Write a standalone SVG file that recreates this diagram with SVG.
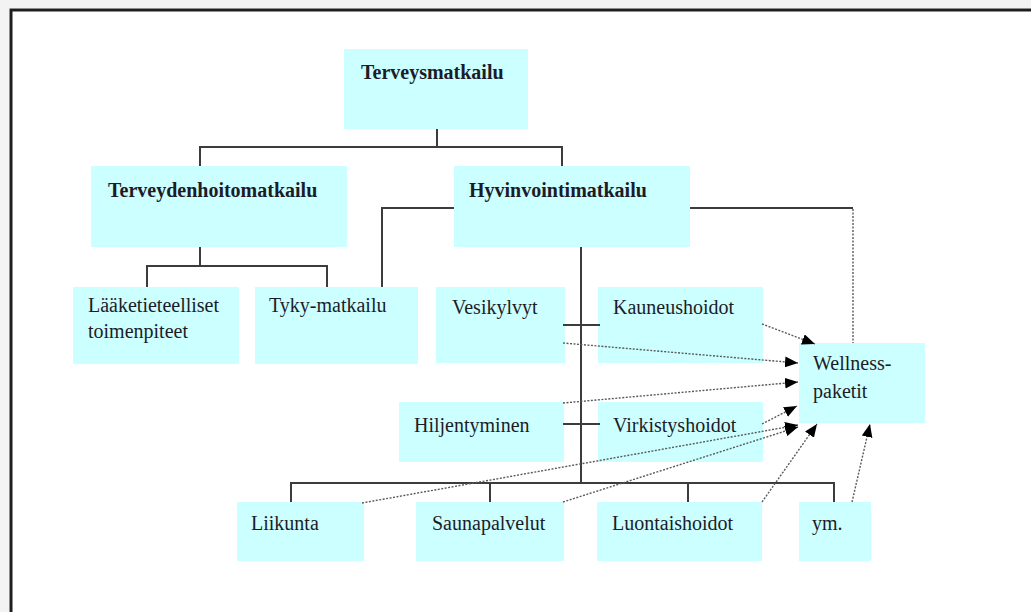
<svg xmlns="http://www.w3.org/2000/svg" width="1031" height="612" viewBox="0 0 1031 612">
<defs>
<style>
.box{fill:#ccffff;}
.t{font-family:"Liberation Serif","Times New Roman",serif;font-size:20px;fill:#1c1c28;}
.b{font-weight:bold;}
.tree{fill:none;stroke:#3c3c3c;stroke-width:2;}
.dot{fill:none;stroke:#5a5a5a;stroke-width:1.4;stroke-dasharray:2 1.5;}
</style>
<marker id="ah" viewBox="0 0 12 10" refX="12" refY="5" markerWidth="13" markerHeight="11" markerUnits="userSpaceOnUse" orient="auto">
<path d="M0,0 L12,5 L0,10 Z" fill="#000"/>
</marker>
</defs>
<rect x="0" y="0" width="1031" height="612" fill="#ffffff"/>
<rect x="0" y="0" width="1031" height="8" fill="#f3f3f3"/>
<rect x="0" y="0" width="9" height="612" fill="#f3f3f3"/>
<path d="M11,612 V10 H1031" fill="none" stroke="#1e1e1e" stroke-width="3"/>

<g id="n1"><rect class="box" x="344" y="49" width="184" height="80"/><text class="t b" x="361" y="79">Terveysmatkailu</text></g>
<g id="n2"><rect class="box" x="91" y="166" width="256" height="81"/><text class="t b" x="108" y="197">Terveydenhoitomatkailu</text></g>
<g id="n3"><rect class="box" x="454" y="166" width="236" height="81"/><text class="t b" x="469" y="197">Hyvinvointimatkailu</text></g>
<g id="n4"><rect class="box" x="73" y="287" width="166" height="77"/><text class="t" x="88" y="312">Lääketieteelliset</text><text class="t" x="88" y="338">toimenpiteet</text></g>
<g id="n5"><rect class="box" x="255" y="287" width="163" height="77"/><text class="t" x="269" y="312">Tyky-matkailu</text></g>
<g id="n6"><rect class="box" x="436" y="287" width="129" height="76"/><text class="t" x="452" y="314">Vesikylvyt</text></g>
<g id="n7"><rect class="box" x="598" y="287" width="165" height="76"/><text class="t" x="613" y="314">Kauneushoidot</text></g>
<g id="n8"><rect class="box" x="799" y="343" width="126" height="80"/><text class="t" x="813" y="370">Wellness-</text><text class="t" x="813" y="398">paketit</text></g>
<g id="n9"><rect class="box" x="399" y="402" width="165" height="60"/><text class="t" x="414" y="432">Hiljentyminen</text></g>
<g id="n10"><rect class="box" x="598" y="402" width="165" height="60"/><text class="t" x="613" y="432">Virkistyshoidot</text></g>
<g id="n11"><rect class="box" x="237" y="502" width="127" height="59"/><text class="t" x="251" y="530">Liikunta</text></g>
<g id="n12"><rect class="box" x="416" y="502" width="148" height="59"/><text class="t" x="432" y="530">Saunapalvelut</text></g>
<g id="n13"><rect class="box" x="597" y="502" width="165" height="59"/><text class="t" x="612" y="530">Luontaishoidot</text></g>
<g id="n14"><rect class="box" x="799" y="502" width="72" height="59"/><text class="t" x="812" y="530">ym.</text></g>

<g id="connectors">
<path class="tree" d="M437,129 V147"/>
<path class="tree" d="M200,166 V147 H562 V166"/>
<path class="tree" d="M200,247 V266"/>
<path class="tree" d="M147,287 V266 H327 V287"/>
<path class="tree" d="M382,287 V208 H454"/>
<path class="tree" d="M690,208 H853"/>
<path class="dot" d="M853,209 V343"/>
<path class="tree" d="M581,247 V483"/>
<path class="tree" d="M291,502 V483 H834 V502"/>
<path class="tree" d="M490,483 V502"/>
<path class="tree" d="M688,483 V502"/>
<path class="tree" d="M563,325 H600"/>
<path class="tree" d="M563,424 H600"/>
<path class="dot" d="M762,324 L815,344" marker-end="url(#ah)"/>
<path class="dot" d="M563,343 L798,363" marker-end="url(#ah)"/>
<path class="dot" d="M563,403 L798,382" marker-end="url(#ah)"/>
<path class="dot" d="M762,424 L797,406" marker-end="url(#ah)"/>
<path class="dot" d="M362,503 L798,425" marker-end="url(#ah)"/>
<path class="dot" d="M563,502 L798,427" marker-end="url(#ah)"/>
<path class="dot" d="M762,502 L817,424" marker-end="url(#ah)"/>
<path class="dot" d="M852,502 L870,424" marker-end="url(#ah)"/>
</g>
</svg>
